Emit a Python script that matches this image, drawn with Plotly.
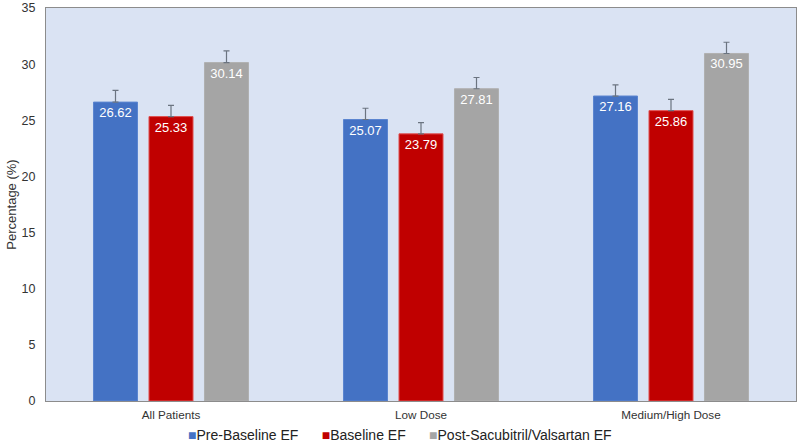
import plotly.graph_objects as go

categories = ["All Patients", "Low Dose", "Medium/High Dose"]
pre_baseline = [26.62, 25.07, 27.16]
baseline = [25.33, 23.79, 25.86]
post_sv = [30.14, 27.81, 30.95]
err_pre = [1.05, 1.0, 1.0]
err_base = [1.0, 1.0, 1.0]
err_post = [1.05, 1.0, 1.0]

series = [
    ("Pre-Baseline EF", pre_baseline, err_pre, "#4472C4", "#5B85D0"),
    ("Baseline EF", baseline, err_base, "#C00000", "#E05050"),
    ("Post-Sacubitril/Valsartan EF", post_sv, err_post, "#A5A5A5", "#B0B0B0"),
]

fig = go.Figure()
for name, vals, errs, col, lcol in series:
    fig.add_trace(go.Bar(
        name=name, x=categories, y=vals,
        marker=dict(color=col, line=dict(color=lcol, width=1)),
        error_y=dict(type="data", array=errs, visible=True, color="#6B7480",
                     thickness=1.2, width=3, symmetric=False, arrayminus=[0]*len(errs)),
        text=[f"{v:.2f}" for v in vals], textposition="inside",
        insidetextanchor="end",
        textfont=dict(color="white", size=13, family="Liberation Sans, Arial"),
        cliponaxis=False, showlegend=False,
    ))

legend_text = "&nbsp;&nbsp;&nbsp;&nbsp;&nbsp;&nbsp;".join(
    f"<span style='color:{col}'>■</span>{name}" for name, _, _, col, _ in series
)
fig.add_annotation(text=legend_text, xref="paper", yref="paper", x=0.472, y=-0.062,
                   xanchor="center", yanchor="top", showarrow=False,
                   font=dict(size=14, color="#222222", family="Liberation Sans, Arial"))

fig.update_layout(
    width=800, height=443,
    barmode="group", bargap=0.334, bargroupgap=0.207,
    paper_bgcolor="white", plot_bgcolor="#DAE3F3",
    margin=dict(l=46, r=4, t=8, b=42),
    font=dict(family="Liberation Sans, Arial", color="#333333"),
    showlegend=False,
)
fig.update_xaxes(showline=True, linecolor="#8C8C8C", linewidth=1, mirror=True,
                 tickfont=dict(size=11.7, color="#333333"), ticks="", showgrid=False,
                 ticklabelstandoff=3, automargin=False)
fig.update_yaxes(range=[0, 35], dtick=5, showline=True, linecolor="#8C8C8C", linewidth=1,
                 mirror=True, showgrid=False, zeroline=False, ticks="",
                 ticklabelstandoff=7,
                 tickfont=dict(size=12.5, color="#333333"), automargin=False,
                 title=dict(text="Percentage (%)", font=dict(size=13, color="#333333"), standoff=2))

fig.write_html("out.html", config={"displayModeBar": False},
               post_script="document.body.style.margin='0px';")
